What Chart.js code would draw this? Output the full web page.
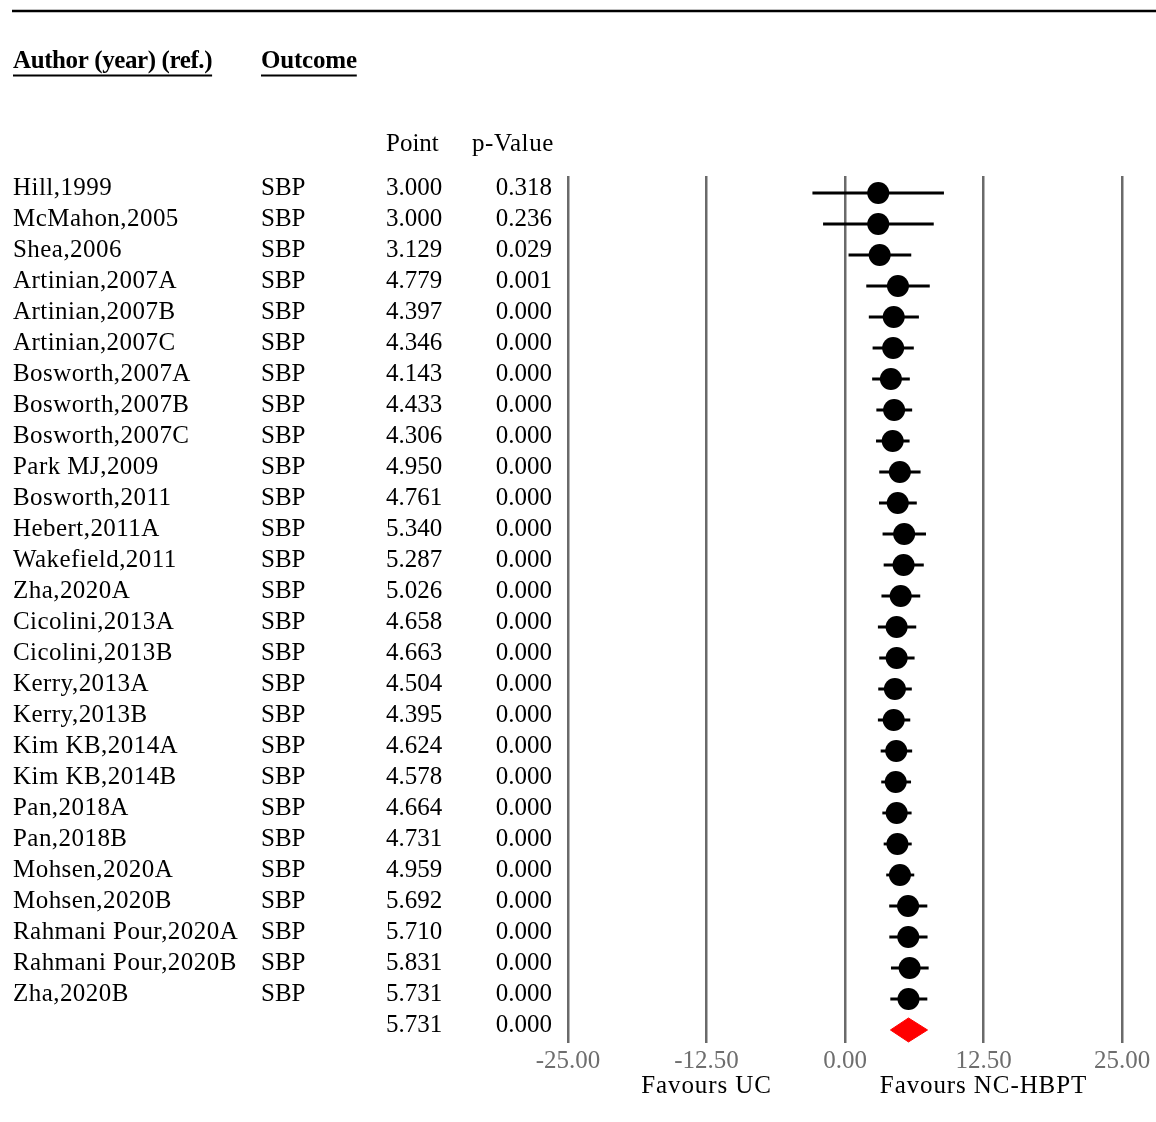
<!DOCTYPE html>
<html>
<head>
<meta charset="utf-8">
<script src="https://cdn.jsdelivr.net/npm/chart.js@4/dist/chart.umd.min.js"></script>
<style>
  html, body { margin: 0; padding: 0; background: #fff; }
  #wrap { width: 1156px; height: 1122px; position: relative; }
</style>
</head>
<body>
<div id="wrap"><canvas id="c" width="1156" height="1122"></canvas></div>
<script>
// ---- data ----
const authors = ["Hill,1999","McMahon,2005","Shea,2006","Artinian,2007A","Artinian,2007B","Artinian,2007C",
  "Bosworth,2007A","Bosworth,2007B","Bosworth,2007C","Park MJ,2009","Bosworth,2011","Hebert,2011A",
  "Wakefield,2011","Zha,2020A","Cicolini,2013A","Cicolini,2013B","Kerry,2013A","Kerry,2013B",
  "Kim KB,2014A","Kim KB,2014B","Pan,2018A","Pan,2018B","Mohsen,2020A","Mohsen,2020B",
  "Rahmani Pour,2020A","Rahmani Pour,2020B","Zha,2020B"];
const outcomes = authors.map(() => "SBP");
const points = [3.000,3.000,3.129,4.779,4.397,4.346,4.143,4.433,4.306,4.950,4.761,5.340,5.287,5.026,
  4.658,4.663,4.504,4.395,4.624,4.578,4.664,4.731,4.959,5.692,5.710,5.831,5.731];
const pValues = ["0.318","0.236","0.029","0.001","0.000","0.000","0.000","0.000","0.000","0.000","0.000",
  "0.000","0.000","0.000","0.000","0.000","0.000","0.000","0.000","0.000","0.000","0.000","0.000",
  "0.000","0.000","0.000","0.000"];
const ciLow = [-2.91,-1.95,0.35,1.95,2.18,2.52,2.48,2.86,2.83,3.12,3.10,3.42,3.52,3.32,3.00,3.12,3.03,3.00,
  3.25,3.30,3.40,3.52,3.75,4.02,4.03,4.18,4.12];
const ciHigh = [8.90,7.98,5.95,7.62,6.64,6.18,5.82,6.03,5.80,6.79,6.45,7.28,7.08,6.76,6.40,6.25,6.00,5.86,
  6.03,5.93,5.98,5.99,6.22,7.40,7.42,7.52,7.40];
const summaryPoint = 5.731;
const summaryP = "0.000";
const summaryLow = 4.10;
const summaryHigh = 7.45;
const xTicks = [-25, -12.5, 0, 12.5, 25];
const leftLabel = "Favours UC";
const rightLabel = "Favours NC-HBPT";

// ---- derived ----
const FONT = "Liberation Serif";
const FS = 25;
const summaryRow = authors.length;
const ciData = authors.map((a, i) => ({ x: [ciLow[i], ciHigh[i]], y: i }));
const ptData = authors.map((a, i) => ({ x: points[i], y: i }));
const dh = 0.387;
const diamond = [
  { x: summaryLow, y: summaryRow },
  { x: summaryPoint, y: summaryRow - dh },
  { x: summaryHigh, y: summaryRow },
  { x: summaryPoint, y: summaryRow + dh },
  { x: summaryLow, y: summaryRow }
];

const textPlugin = {
  id: 'forestText',
  afterDraw(chart) {
    const ctx = chart.ctx;
    const ys = chart.scales.y, xs = chart.scales.x;
    ctx.save();
    // top rule
    ctx.strokeStyle = '#000'; ctx.lineWidth = 2.5;
    ctx.beginPath(); ctx.moveTo(12, 11); ctx.lineTo(1156, 11); ctx.stroke();

    ctx.fillStyle = '#000';
    ctx.textBaseline = 'alphabetic';
    ctx.font = `bold ${FS}px "${FONT}"`;
    ctx.textAlign = 'left';
    const h1 = "Author (year) (ref.)", h2 = "Outcome";
    ctx.letterSpacing = '-0.4px';
    ctx.fillText(h1, 13, 68);
    ctx.letterSpacing = '-0.2px';
    ctx.fillText(h2, 261, 68);
    ctx.lineWidth = 2;
    ctx.letterSpacing = '-0.4px';
    let w1 = ctx.measureText(h1).width;
    ctx.letterSpacing = '-0.2px';
    let w2 = ctx.measureText(h2).width;
    ctx.beginPath(); ctx.moveTo(13, 75.5); ctx.lineTo(13 + w1, 75.5); ctx.stroke();
    ctx.beginPath(); ctx.moveTo(261, 75.5); ctx.lineTo(261 + w2, 75.5); ctx.stroke();

    ctx.font = `${FS}px "${FONT}"`;
    ctx.letterSpacing = '0px';
    ctx.fillText("Point", 386, 151);
    ctx.letterSpacing = '0.6px';
    ctx.fillText("p-Value", 472, 151);

    for (let i = 0; i < authors.length; i++) {
      const y = ys.getPixelForValue(i) + 2.5;
      ctx.textAlign = 'left';
      ctx.letterSpacing = '0.45px';
      ctx.fillText(authors[i], 13, y);
      ctx.letterSpacing = '0px';
      ctx.fillText(outcomes[i], 261, y);
      ctx.fillText(points[i].toFixed(3), 386, y);
      ctx.textAlign = 'right';
      ctx.fillText(pValues[i], 552, y);
    }
    const ySum = ys.getPixelForValue(summaryRow) + 2.5;
    ctx.textAlign = 'left';
    ctx.fillText(summaryPoint.toFixed(3), 386, ySum);
    ctx.textAlign = 'right';
    ctx.fillText(summaryP, 552, ySum);

    ctx.textAlign = 'center';
    ctx.letterSpacing = '0.9px';
    ctx.fillText(leftLabel, xs.getPixelForValue(-12.5), 1093);
    ctx.fillText(rightLabel, xs.getPixelForValue(12.5), 1093);
    ctx.restore();
  }
};

new Chart(document.getElementById('c'), {
  type: 'scatter',
  data: {
    datasets: [
      {
        type: 'bar', indexAxis: 'y', data: ciData,
        backgroundColor: '#000', borderWidth: 0, barThickness: 2.2, order: 3
      },
      {
        type: 'scatter', data: ptData,
        backgroundColor: '#000', borderWidth: 0, pointRadius: 11, pointHoverRadius: 11, order: 1
      },
      {
        type: 'line', data: diamond, showLine: true, fill: 'shape',
        backgroundColor: '#ff0000', borderColor: '#ff0000', borderWidth: 1,
        pointRadius: 0, tension: 0, order: 2
      }
    ]
  },
  options: {
    responsive: false,
    animation: false,
    devicePixelRatio: 1,
    layout: { padding: { left: 568, right: 34, top: 176, bottom: 0 } },
    plugins: { legend: { display: false }, tooltip: { enabled: false } },
    scales: {
      x: {
        type: 'linear', min: -25, max: 25, offset: false,
        afterBuildTicks(scale) { scale.ticks = xTicks.map(v => ({ value: v })); },
        afterFit(scale) { scale.height = 79; },
        ticks: {
          callback: v => Number(v).toFixed(2),
          color: '#6e6e6e',
          font: { family: FONT, size: FS },
          padding: 3,
          maxRotation: 0, autoSkip: false
        },
        grid: { display: true, color: '#6a6a6a', lineWidth: 2.5, drawTicks: false, offset: false },
        border: { display: false }
      },
      y: {
        type: 'linear', reverse: true, min: -0.548, max: 27.42, offset: false,
        display: false,
        grid: { display: false, offset: false }
      }
    }
  },
  plugins: [textPlugin]
});
</script>
</body>
</html>
